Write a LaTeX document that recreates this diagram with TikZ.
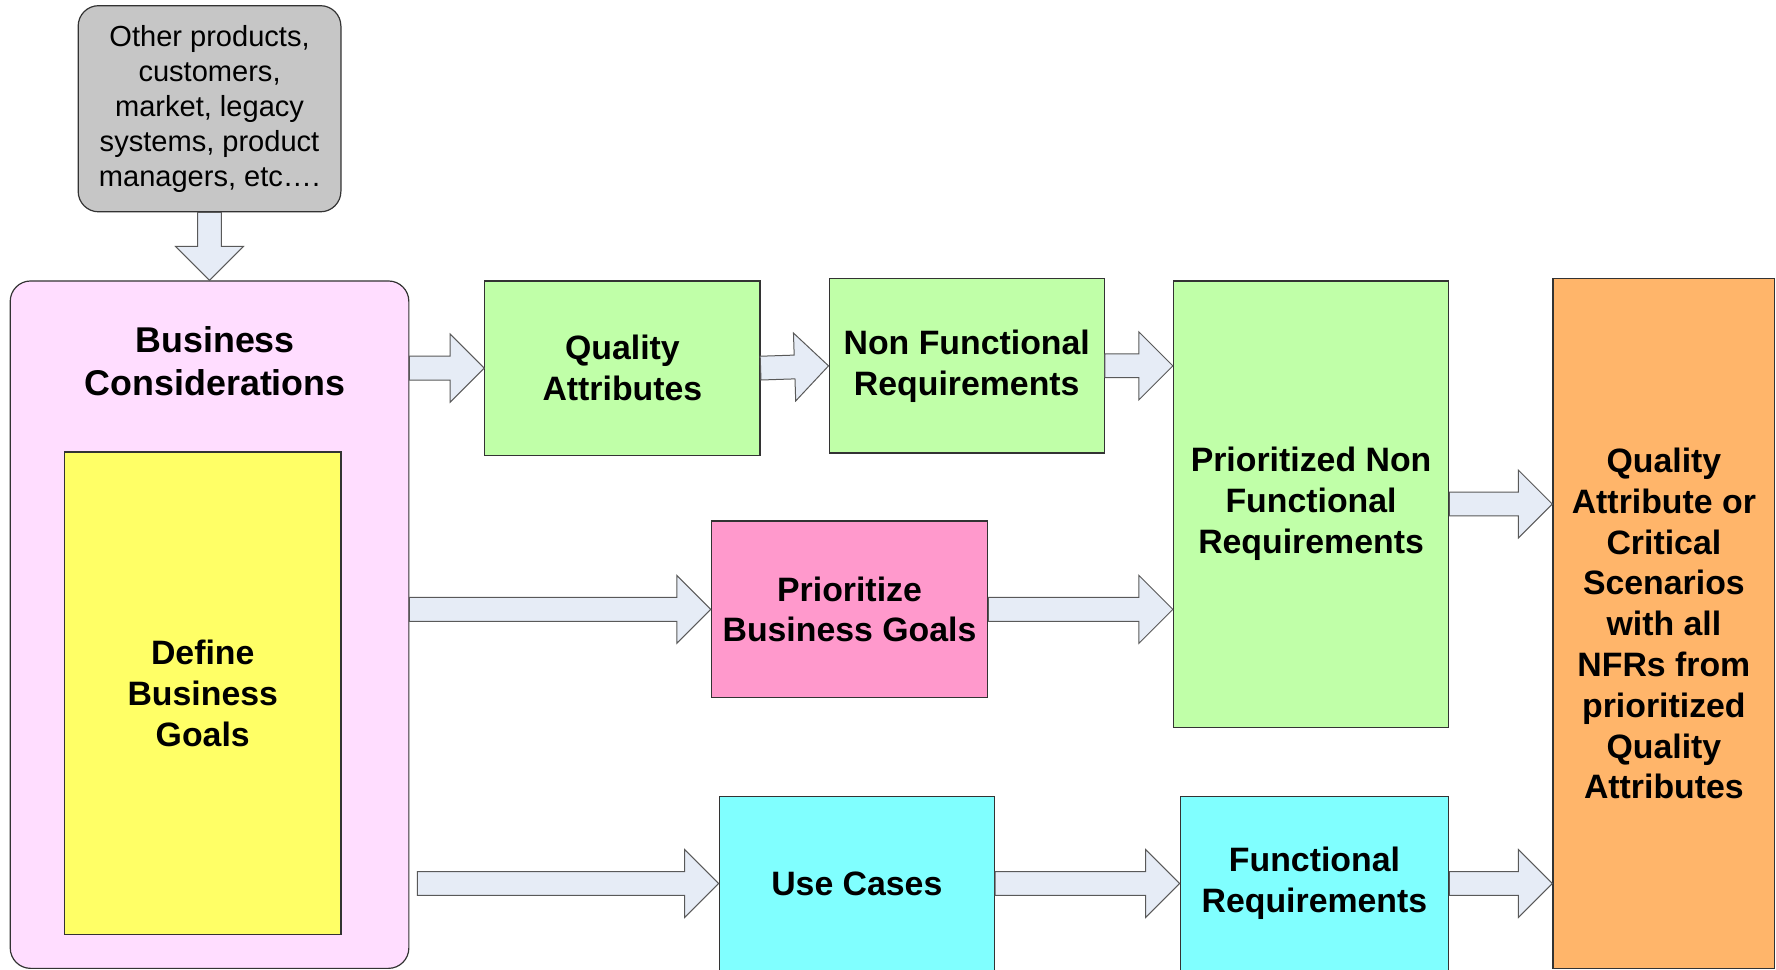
\documentclass[tikz,border=0pt]{standalone}
\usepackage{fontspec}
\setmainfont{Liberation Sans}
\usetikzlibrary{positioning,calc}
\definecolor{othergray}{RGB}{198,198,198}
\definecolor{bcpink}{RGB}{255,221,255}
\definecolor{goalyellow}{RGB}{255,255,102}
\definecolor{nfrgreen}{RGB}{192,255,168}
\definecolor{pbgpink}{RGB}{255,153,204}
\definecolor{fcyan}{RGB}{128,255,255}
\definecolor{qorange}{RGB}{255,181,106}
\definecolor{arrowfill}{RGB}{230,236,246}
\begin{document}
\begin{tikzpicture}
[x=0.02cm,y=-0.02cm,
 box/.style={draw=black!80,line width=0.6pt,inner sep=0pt,align=center,
   font=\fontsize{17}{20.5}\selectfont\bfseries},
 flow/.style={draw=black!65,fill=arrowfill,line width=0.5pt,
   to path={let \p1=(\tikztostart),\p2=(\tikztotarget),
     \n1={atan2(\y2-\y1,\x2-\x1)},\n2={veclen(\x2-\x1,\y2-\y1)} in
     [shift={(\p1)},rotate=\n1]
     (0pt,-0.21cm) -- (\n2-0.6cm,-0.21cm) -- (\n2-0.6cm,-0.6cm) -- (\n2,0pt)
     -- (\n2-0.6cm,0.6cm) -- (\n2-0.6cm,0.21cm) -- (0pt,0.21cm) -- cycle}}]
\useasboundingbox (0,0) rectangle (1568,856);
\clip (0,0) rectangle (1568,856);

% sources
\node[box,fill=othergray,rounded corners=0.36cm,minimum width=4.64cm,
  minimum height=3.64cm,font=\fontsize{14.6}{17.6}\selectfont] (other) at (185,96)
{Other products,\\customers,\\market, legacy\\systems, product\\managers, etc\dots.};
\node[box,fill=bcpink,rounded corners=0.36cm,minimum width=7.04cm,
  minimum height=12.14cm] (bc) at (185,551.5) {};
\node[font=\fontsize{18}{21.3}\selectfont\bfseries,align=center] (bctitle) at (190,319)
{Business\\Considerations};
\node[box,fill=goalyellow,minimum width=4.88cm,minimum height=8.52cm] (goals)
  at (179,612) {Define\\Business\\Goals};

% middle column
\node[box,fill=nfrgreen,minimum width=4.86cm,minimum height=3.08cm] (qa)
  at (549.5,325) {Quality\\Attributes};
\node[box,fill=nfrgreen,minimum width=4.86cm,minimum height=3.08cm] (nfr)
  at (853.5,323) {Non Functional\\Requirements};
\node[box,fill=pbgpink,minimum width=4.88cm,minimum height=3.12cm] (pbg)
  at (750,538) {Prioritize\\Business Goals};
\node[box,fill=fcyan,minimum width=4.86cm,minimum height=3.08cm] (uc)
  at (756.5,780) {Use Cases};

% right
\node[box,fill=nfrgreen,minimum width=4.86cm,minimum height=7.88cm] (pnfr)
  at (1157.5,445) {Prioritized Non\\Functional\\Requirements};
\node[box,fill=fcyan,minimum width=4.74cm,minimum height=3.08cm] (fr)
  at (1160.5,780) {Functional\\Requirements};
\node[box,fill=qorange,minimum width=3.92cm,minimum height=12.18cm] (qacs)
  at (1469,550.5) {Quality\\Attribute or\\Critical\\Scenarios\\with all\\NFRs from\\prioritized\\Quality\\Attributes};

\coordinate (ucin) at ($(bc.east|-uc.west)+(7,0)$);

\draw[flow] (other.south) to (bc.north);
\draw[flow] (bc.east|-qa.west) to (qa.west);
\draw[flow] (qa.east) to (nfr.west);
\draw[flow] (nfr.east) to (pnfr.west|-nfr.east);
\draw[flow] (bc.east|-pbg.west) to (pbg.west);
\draw[flow] (pbg.east) to (pnfr.west|-pbg.east);
\draw[flow] (pnfr.east) to (qacs.west|-pnfr.east);
\draw[flow] (ucin) to (uc.west);
\draw[flow] (uc.east) to (fr.west|-uc.east);
\draw[flow] (fr.east) to (qacs.west|-fr.east);
\end{tikzpicture}
\end{document}
